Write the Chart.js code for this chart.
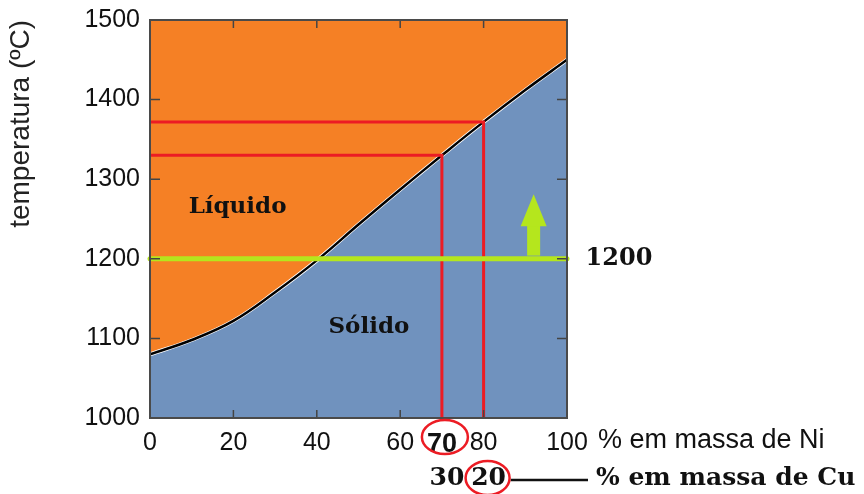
<!DOCTYPE html>
<html lang="pt">
<head>
<meta charset="UTF-8" />
<title>Diagrama Cu-Ni</title>
<style>
  body { margin: 0; background: #fff; }
  #wrap { width: 864px; height: 494px; position: relative; }
</style>
</head>
<body>
<div id="wrap"><canvas id="myChart"></canvas></div>
<script src="https://cdn.jsdelivr.net/npm/chart.js"></script>
<script>
// linha liquidus: % em massa de Ni -> temperatura (ºC)
const niPct = [0, 10, 20, 30, 40, 50, 60, 70, 80, 90, 100];
const liquidus = [1080, 1098, 1122, 1158, 1198, 1243, 1287, 1330, 1372, 1412, 1450];
// leituras marcadas em vermelho
const readNi = [70, 80];
const readTemp = [1330, 1372];
// eixos
const xTicks = [0, 20, 40, 60, 70, 80, 100];
const yTicks = [1000, 1100, 1200, 1300, 1400, 1500];
// linha de referencia e seta
const refTemp = 1200;
const arrowNi = 92;
const arrowFrom = 1204;
const arrowTo = 1281;

const ORANGE = '#f58025';
const BLUE = '#7092be';
const GREEN = '#b5e61d';
const RED = '#ec1c24';
const SANS = '"Liberation Sans", Arial, sans-serif';
const SERIF = '"DejaVu Serif", serif';

const curve = niPct.map((x, i) => ({ x: x, y: liquidus[i] }));

function readLine(i) {
    return [
        { x: 0, y: readTemp[i] },
        { x: readNi[i], y: readTemp[i] },
        { x: readNi[i], y: yTicks[0] }
    ];
}

const extras = {
    id: 'extras',
    beforeDatasetsDraw(chart) {
        const { ctx, chartArea: a } = chart;
        ctx.save();
        ctx.fillStyle = ORANGE;
        ctx.fillRect(a.left, a.top, a.width, a.height);
        ctx.restore();
    },
    afterDatasetsDraw(chart) {
        const { ctx, chartArea: a } = chart;
        const xs = chart.scales.x, ys = chart.scales.y;
        ctx.save();

        // seta verde
        const ax = xs.getPixelForValue(arrowNi);
        const yb = ys.getPixelForValue(arrowFrom);
        const yt = ys.getPixelForValue(arrowTo);
        const headLen = 32, headW = 26, shaftW = 13;
        ctx.fillStyle = GREEN;
        ctx.fillRect(ax - shaftW / 2, yt + headLen - 1, shaftW, yb - yt - headLen + 1);
        ctx.beginPath();
        ctx.moveTo(ax, yt);
        ctx.lineTo(ax + headW / 2, yt + headLen);
        ctx.lineTo(ax - headW / 2, yt + headLen);
        ctx.closePath();
        ctx.fill();

        // marcas internas
        ctx.strokeStyle = '#444';
        ctx.lineWidth = 1.5;
        ctx.beginPath();
        xTicks.forEach(v => {
            if (v % 20) return;
            const px = xs.getPixelForValue(v);
            ctx.moveTo(px, a.bottom); ctx.lineTo(px, a.bottom - 8);
            ctx.moveTo(px, a.top); ctx.lineTo(px, a.top + 8);
        });
        yTicks.forEach(v => {
            const py = ys.getPixelForValue(v);
            ctx.moveTo(a.left, py); ctx.lineTo(a.left + 10, py);
            ctx.moveTo(a.right, py); ctx.lineTo(a.right - 10, py);
        });
        ctx.stroke();

        // moldura
        ctx.strokeStyle = '#4a4a4a';
        ctx.lineWidth = 2;
        ctx.strokeRect(a.left, a.top, a.width, a.height);

        // rotulos das fases
        ctx.fillStyle = '#111';
        ctx.font = 'bold 23px ' + SERIF;
        ctx.textAlign = 'center';
        ctx.textBaseline = 'middle';
        ctx.fillText('Líquido', xs.getPixelForValue(21), ys.getPixelForValue(1265));
        ctx.fillText('Sólido', xs.getPixelForValue(52.5), ys.getPixelForValue(1114));
        ctx.font = 'bold 24px ' + SERIF;
        ctx.fillText(String(refTemp), a.right + 52, ys.getPixelForValue(refTemp));

        // titulo do eixo x (Ni)
        ctx.font = '27px ' + SANS;
        ctx.textAlign = 'left';
        ctx.fillText('% em massa de Ni', a.right + 31, 441);

        // segunda linha: % de Cu
        const row2 = 478;
        ctx.font = 'bold 25px ' + SERIF;
        ctx.textAlign = 'center';
        readNi.forEach(n => {
            ctx.fillText(String(100 - n), xs.getPixelForValue(n) + 5, row2);
        });
        const lastX = xs.getPixelForValue(readNi[readNi.length - 1]) + 5;
        ctx.strokeStyle = '#111';
        ctx.lineWidth = 2.5;
        ctx.beginPath();
        ctx.moveTo(lastX + 22, row2 + 2);
        ctx.lineTo(a.right + 21, row2 + 2);
        ctx.stroke();
        ctx.textAlign = 'left';
        ctx.fillText('% em massa de Cu', a.right + 29, row2);

        // circulos vermelhos
        ctx.strokeStyle = RED;
        ctx.lineWidth = 2.5;
        ctx.beginPath();
        ctx.ellipse(xs.getPixelForValue(readNi[0]) + 3, 437, 23, 17, 0, 0, Math.PI * 2);
        ctx.stroke();
        ctx.beginPath();
        ctx.ellipse(lastX - 1, row2, 22, 17, 0, 0, Math.PI * 2);
        ctx.stroke();

        ctx.restore();
    }
};

const myChart = new Chart(document.querySelector('#myChart'), {
    type: 'line',
    data: {
        datasets: [
            {
                data: [{ x: 0, y: refTemp }, { x: 100, y: refTemp }],
                borderColor: GREEN,
                borderWidth: 5,
                borderCapStyle: 'round',
                pointRadius: 0,
                clip: false
            },
            {
                data: readLine(0),
                borderColor: RED,
                borderWidth: 3,
                pointRadius: 0
            },
            {
                data: readLine(1),
                borderColor: RED,
                borderWidth: 3,
                pointRadius: 0
            },
            {
                data: curve,
                borderColor: '#000',
                borderWidth: 2.5,
                pointRadius: 0,
                tension: 0.4
            },
            {
                data: curve,
                borderColor: '#fff',
                borderWidth: 4,
                pointRadius: 0,
                tension: 0.4
            },
            {
                data: curve,
                borderWidth: 0,
                borderColor: BLUE,
                backgroundColor: BLUE,
                fill: 'start',
                pointRadius: 0,
                tension: 0.4
            }
        ]
    },
    options: {
        responsive: true,
        maintainAspectRatio: false,
        animation: false,
        layout: { padding: { left: 0, top: 20, right: 297, bottom: 0 } },
        plugins: { legend: { display: false }, tooltip: { enabled: false } },
        scales: {
            x: {
                type: 'linear',
                min: 0,
                max: 100,
                grid: { display: false },
                border: { display: false },
                afterBuildTicks: s => { s.ticks = xTicks.map(v => ({ value: v })); },
                afterFit: s => { s.height = 76; },
                ticks: {
                    autoSkip: false,
                    maxRotation: 0,
                    padding: 2,
                    color: '#111',
                    font: c => (c.tick && c.tick.value === 70)
                        ? { family: SANS, size: 27, weight: 'bold' }
                        : { family: SANS, size: 25 },
                    callback: v => String(v)
                }
            },
            y: {
                min: 1000,
                max: 1500,
                grid: { display: false },
                border: { display: false },
                afterBuildTicks: s => { s.ticks = yTicks.map(v => ({ value: v })); },
                afterFit: s => { s.width = 150; },
                title: {
                    display: true,
                    text: 'temperatura (ºC)',
                    align: 'end',
                    color: '#222',
                    font: { family: SANS, size: 28 },
                    padding: { top: 4, bottom: 0 }
                },
                ticks: {
                    padding: 2,
                    color: '#111',
                    font: { family: SANS, size: 25 },
                    callback: v => String(v)
                }
            }
        }
    },
    plugins: [extras]
});
</script>
</body>
</html>
